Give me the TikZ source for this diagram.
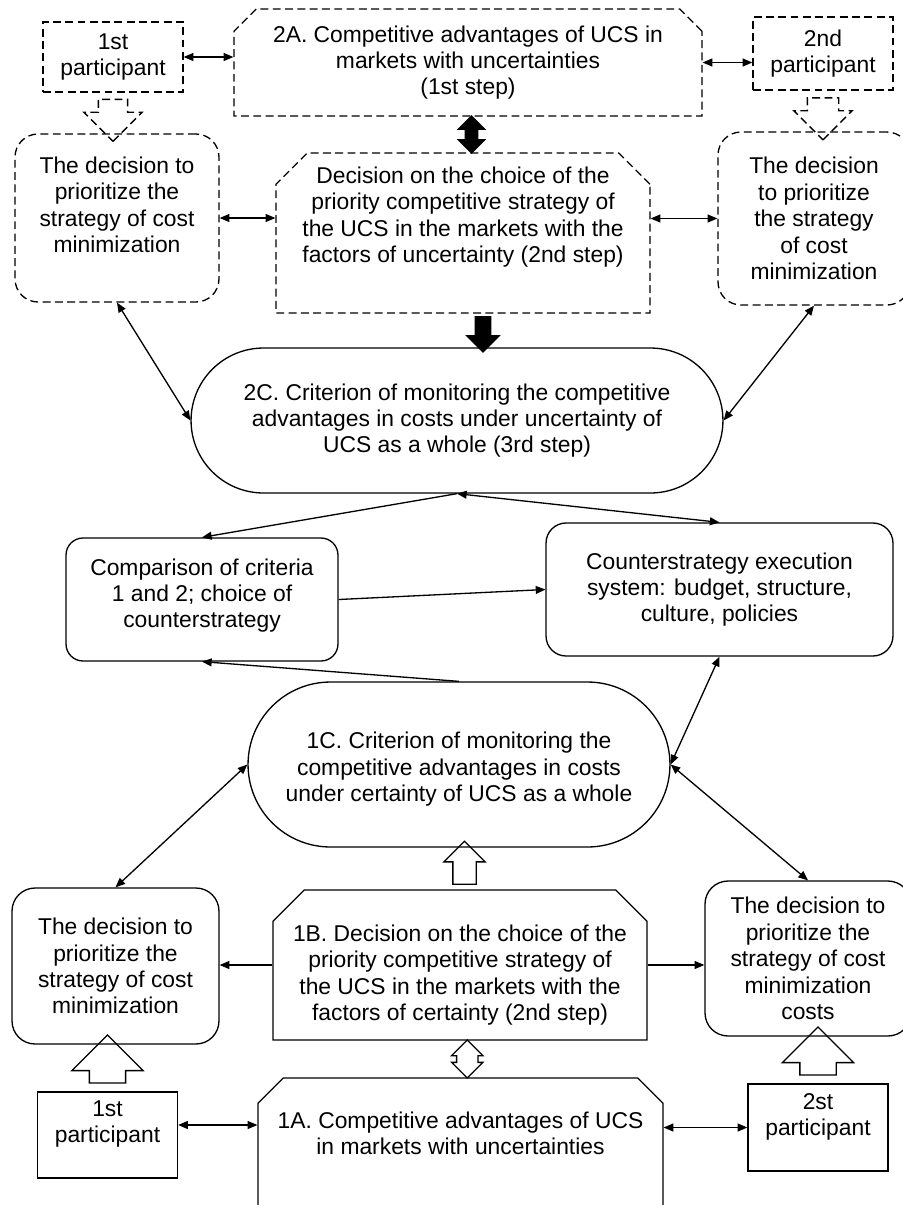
\documentclass[tikz,border=0pt]{standalone}
\usepackage{fontspec}
\setmainfont{Liberation Sans}
\usetikzlibrary{shapes.misc,shapes.arrows,arrows.meta,calc}

\begin{document}
\begin{tikzpicture}[x=0.02cm,y=-0.02cm,line width=.75pt,>={Triangle[length=5.5pt,width=4.5pt]},
  every node/.style={font=\fontsize{13}{15}\selectfont,align=center,inner sep=0pt},
  dashbox/.style={dash pattern=on 4.5pt off 2.5pt},
  partbox/.style={draw,rectangle,minimum width=2.8cm},
  decbox/.style={draw,rectangle,rounded corners=.46cm},
  cutbox/.style={draw,chamfered rectangle,chamfered rectangle corners={north west,north east},chamfered rectangle xsep=.5cm,inner xsep=-6pt},
  critbox/.style={draw,rounded rectangle},
  blockarrow/.style n args={3}{draw,single arrow,minimum height=#1,inner xsep=0pt,inner ysep=#2,single arrow head extend=#3},
  twinarrow/.style n args={3}{draw,double arrow,minimum height=#1,inner xsep=0pt,inner ysep=#2,double arrow head extend=#3}]
  \fill[white] (0,0) rectangle (903,1205);
  \useasboundingbox (0,0) rectangle (903,1205);
  \clip (0,0) rectangle (903,1205);

  % second scheme (uncertainty)
  \node[partbox,dashbox,minimum height=1.4cm] (p1a) at (113,57) {1st\\participant};
  \node[cutbox,dashbox,minimum width=9.36cm,minimum height=2.14cm,chamfered rectangle xsep=.32cm] (a2) at (468,62.5)
    {2A. Competitive advantages of UCS in\\markets with uncertainties\\(1st step)};
  \node[partbox,dashbox,minimum height=1.46cm] (p2a) at (823,53.5) {2nd\\participant};
  \node[decbox,dashbox,minimum width=4.08cm,minimum height=3.36cm] (d2l) at (117,218)
    {The decision to\\prioritize the\\strategy of cost\\minimization\\\mbox{}};
  \node[cutbox,dashbox,minimum width=7.48cm,minimum height=3.2cm] (b2) at (463,233)
    {Decision on the choice of the\\priority competitive strategy of\\the UCS in the markets with the\\factors of uncertainty (2nd step)\\[6pt]\mbox{}};
  \node[decbox,dashbox,minimum width=3.84cm,minimum height=3.46cm] (d2r) at (814,218.5)
    {The decision\\to prioritize\\the strategy\\of cost\\minimization};
  \node[critbox,minimum width=10.64cm,minimum height=2.9cm] (c2) at (457,420.5)
    {2C. Criterion of monitoring the competitive\\advantages in costs under uncertainty of\\UCS as a whole (3rd step)};

  % comparison and execution
  \node[draw,rounded corners=.34cm,minimum width=5.44cm,minimum height=2.46cm] (comp) at (202,599.5)
    {Comparison of criteria\\1 and 2; choice of\\counterstrategy\\[-8pt]\mbox{}};
  \node[draw,rounded corners=.4cm,minimum width=6.94cm,minimum height=2.66cm] (exec) at (719.5,589.5)
    {Counterstrategy execution\\system: budget, structure,\\culture, policies};

  % first scheme (certainty)
  \node[critbox,minimum width=8.44cm,minimum height=3.3cm] (c1) at (459,764.5)
    {\mbox{}\\1C. Criterion of monitoring the\\competitive advantages in costs\\under certainty of UCS as a whole};
  \node[cutbox,minimum width=7.48cm,minimum height=3cm] (b1) at (460,965)
    {\mbox{}\\[6pt]1B. Decision on the choice of the\\priority competitive strategy of\\the UCS in the markets with the\\factors of certainty (2nd step)};
  \node[decbox,minimum width=4.14cm,minimum height=3.12cm] (d1l) at (115.5,966)
    {The decision to\\prioritize the\\strategy of cost\\minimization};
  \node[decbox,minimum width=4.12cm,minimum height=3.1cm] (d1r) at (808,958.5)
    {The decision to\\prioritize the\\strategy of cost\\minimization\\costs};
  \node[cutbox,minimum width=8.1cm,minimum height=3.4cm,chamfered rectangle xsep=.38cm] (a1) at (460.5,1163)
    {1A. Competitive advantages of UCS\\in markets with uncertainties\\\mbox{}\\[4pt]\mbox{}};
  \node[partbox,minimum height=1.72cm] (p1b) at (107.5,1135) {1st\\participant\\\mbox{}};
  \node[partbox,minimum height=1.74cm] (p2b) at (818,1127.5) {2st\\participant\\\mbox{}};

  % block arrows
  \node[blockarrow={.84cm}{.28cm}{.29cm},dashbox,rotate=-90] (ha1) at ($(p1a.south)!.5!(p1a.south |- d2l.north)$) {};
  \node[blockarrow={.84cm}{.3cm}{.27cm},dashbox,rotate=-90] (ha2) at ($(p2a.south)!.5!(p2a.south |- d2r.north)$) {};
  \node[twinarrow={.74cm}{.11cm}{.14cm},fill=black,rotate=90] (ha3) at ($(a2.south)!.5!(b2.north)+(6,0)$) {};
  \node[blockarrow={.7cm}{.14cm}{.17cm},fill=black,rotate=-90] (ha4) at ($(b2.south)!.5!(c2.north)+(23,0)$) {};
  \node[blockarrow={.86cm}{.22cm}{.18cm},rotate=90] (ha5) at ($(b1.north)!.5!(c1.south)+(5,0)$) {};
  \node[twinarrow={.76cm}{.2cm}{.1cm},rotate=90] (ha6) at ($(b1.south)!.5!(a1.north)+(7,0)$) {};
  \node[blockarrow={.96cm}{.35cm}{.35cm},rotate=90] (ha7) at ($(p1b.north)!.5!(p1b.north |- d1l.south)$) {};
  \node[blockarrow={.96cm}{.35cm}{.35cm},rotate=90] (ha8) at ($(p2b.north)!.5!(p2b.north |- d1r.south)$) {};

  % connectors
  \draw[<->] (p1a.east) -- (p1a.east -| a2.west);
  \draw[<->] (a2.east) -- (a2.east -| p2a.west);
  \draw[<->] (d2l.east) -- (d2l.east -| b2.west);
  \draw[<->] (d2r.west -| b2.east) -- (d2r.west);
  \draw[<->] (d2l.south) -- (c2.west);
  \draw[<->] (d2r.south) -- (c2.east);
  \draw[->] (c2.south) -- (comp.north);
  \draw[<->] (c2.south) -- (exec.north);
  \draw[->] (comp.east) -- (exec.west);
  \draw[->] (c1.north) -- (comp.south);
  \draw[<->] (exec.south) -- (c1.east);
  \draw[<->] (d1l.north) -- (c1.west);
  \draw[<->] (c1.east) -- (d1r.north);
  \draw[->] (b1.west) -- (b1.west -| d1l.east);
  \draw[->] (b1.east) -- (b1.east -| d1r.west);
  \draw[<->] ($(p1b.east)+(0,-10)$) -- ($(p1b.east -| a1.west)+(0,-10)$);
  \draw[<->] (p2b.west -| a1.east) -- (p2b.west);
\end{tikzpicture}
\end{document}
